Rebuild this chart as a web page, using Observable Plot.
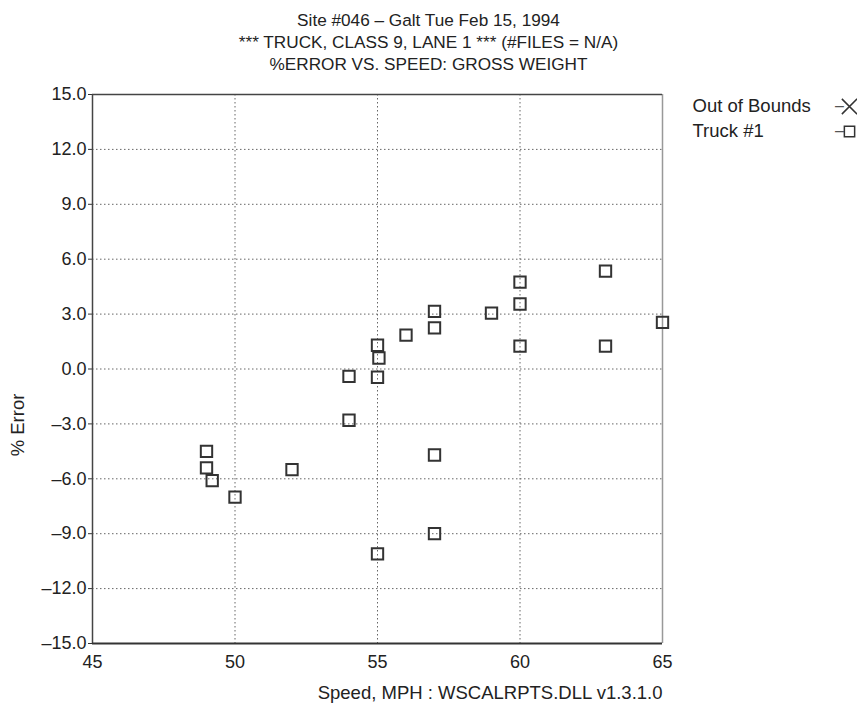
<!DOCTYPE html>
<html>
<head>
<meta charset="utf-8">
<script src="https://cdn.jsdelivr.net/npm/d3@7"></script>
<script src="https://cdn.jsdelivr.net/npm/@observablehq/plot@0.6"></script>
<style>
  body { margin: 0; background: #fff; font-family: "Liberation Sans", Arial, sans-serif; }
  #title { width: 857px; height: 80px; box-sizing: border-box; padding-top: 9px; text-align: center; font-size: 17.2px; line-height: 22px; color: #222; }
</style>
</head>
<body>
<div id="title">
  <div>Site #046 – Galt Tue Feb 15, 1994</div>
  <div>*** TRUCK, CLASS 9, LANE 1 *** (#FILES = N/A)</div>
  <div>%ERROR VS. SPEED: GROSS WEIGHT</div>
</div>
<div id="chart"></div>
<script>
const speeds = [49, 49, 49.2, 50, 52, 54, 55, 57, 57, 63, 60, 60, 57, 59, 65, 57, 56, 55, 60, 63, 55.05, 54, 55];
const errors = [-4.5, -5.4, -6.1, -7.0, -5.5, -2.8, -10.1, -4.7, -9.0, 5.35, 4.75, 3.55, 3.15, 3.05, 2.55, 2.25, 1.85, 1.3, 1.25, 1.25, 0.6, -0.4, -0.45];
const xTicks = [45, 50, 55, 60, 65];
const yTicks = [-15, -12, -9, -6, -3, 0, 3, 6, 9, 12, 15];
const legendLabels = ["Out of Bounds", "Truck #1"];
const legendSymbols = ["times", "square"];

const points = speeds.map((s, i) => ({speed: s, error: errors[i]}));
const fmtY = d => d.toFixed(1).replace("-", "\u2013");

const chart = Plot.plot({
  width: 857,
  height: 624,
  marginLeft: 92,
  marginRight: 195,
  marginTop: 14,
  marginBottom: 61,
  style: {fontFamily: "'Liberation Sans', Arial, sans-serif", fontSize: "18px", color: "#222", background: "#fff", overflow: "visible"},
  x: {domain: [45, 65], ticks: xTicks, label: null},
  y: {domain: [-15, 15], ticks: yTicks, label: null},
  marks: [
    Plot.ruleX(xTicks.slice(1, -1), {stroke: "#666", strokeDasharray: "1.5,2.5", strokeWidth: 1}),
    Plot.ruleY(yTicks.slice(1, -1), {stroke: "#666", strokeDasharray: "1.5,2.5", strokeWidth: 1}),
    Plot.axisY({ticks: yTicks, tickFormat: fmtY, tickSize: 4, tickPadding: 2, stroke: "#333", fontSize: 18}),
    Plot.axisX({ticks: xTicks, tickSize: 0, tickPadding: 12, fontSize: 18}),
    Plot.ruleX([65], {stroke: "#999", strokeWidth: 1.5}),
    Plot.ruleY([15], {stroke: "#444", strokeWidth: 1.5}),
    Plot.ruleX([45], {stroke: "#444", strokeWidth: 1.5}),
    Plot.ruleY([-15], {stroke: "#333", strokeWidth: 2}),
    Plot.dot(points, {x: "speed", y: "error", symbol: "square", r: 6.4, stroke: "#333", strokeWidth: 2, fill: "none"}),
    Plot.text(["Speed, MPH : WSCALRPTS.DLL v1.3.1.0"], {frameAnchor: "bottom-right", textAnchor: "end", lineAnchor: "middle", dy: 50, fontSize: 18.5, fill: "#222"}),
    Plot.text(["% Error"], {frameAnchor: "left", textAnchor: "middle", lineAnchor: "middle", rotate: -90, dx: -74, dy: 56, fontSize: 18.5, fill: "#222"}),
    Plot.text([legendLabels[0]], {frameAnchor: "top-right", textAnchor: "start", lineAnchor: "middle", dx: 30, dy: 12, fontSize: 18.5, fill: "#222"}),
    Plot.text([legendLabels[1]], {frameAnchor: "top-right", textAnchor: "start", lineAnchor: "middle", dx: 30, dy: 37, fontSize: 18.5, fill: "#222"}),
    Plot.text(["\u2013"], {frameAnchor: "top-right", textAnchor: "middle", lineAnchor: "middle", dx: 177, dy: 11, fontSize: 16, fill: "#555"}),
    Plot.text(["\u2013"], {frameAnchor: "top-right", textAnchor: "middle", lineAnchor: "middle", dx: 177, dy: 36, fontSize: 16, fill: "#555"}),
    Plot.dot([legendSymbols[0]], {frameAnchor: "top-right", dx: 187, dy: 12, symbol: legendSymbols[0], r: 7, stroke: "#333", strokeWidth: 1.5}),
    Plot.dot([legendSymbols[1]], {frameAnchor: "top-right", dx: 187, dy: 37, symbol: legendSymbols[1], r: 5.8, stroke: "#333", strokeWidth: 1.5, fill: "none"})
  ]
});
document.getElementById("chart").appendChild(chart);
</script>
</body>
</html>
